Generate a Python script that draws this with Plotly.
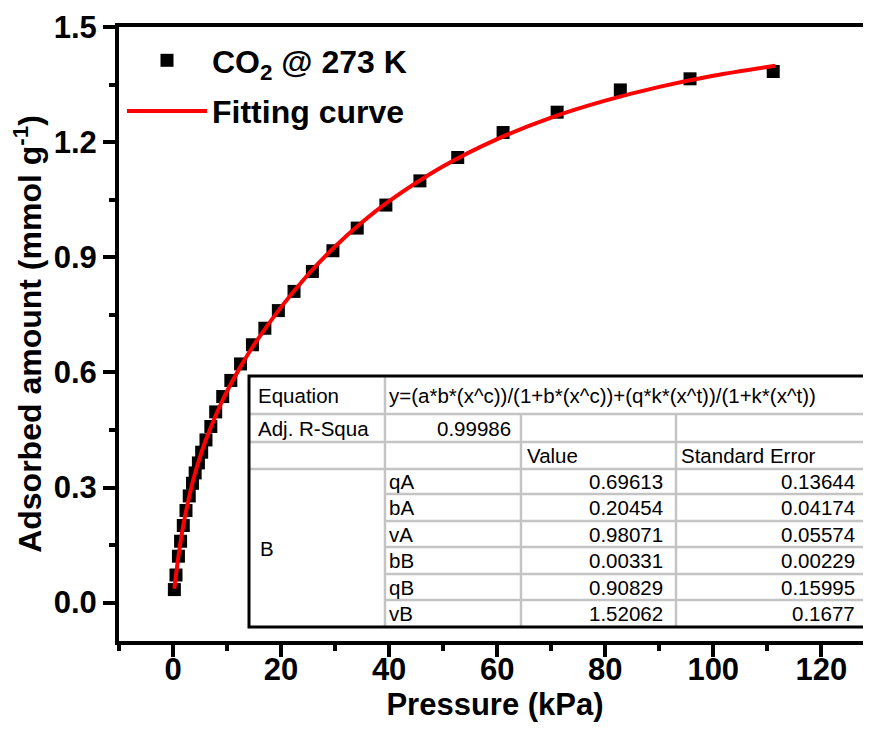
import plotly.graph_objects as go

# ---- data ----
pressure = [0.25, 0.55, 1.0, 1.4, 1.9, 2.4, 3.0, 3.6, 4.1, 4.7, 5.3, 6.1, 7.0, 7.9,
            9.2, 10.7, 12.5, 14.7, 17.0, 19.5, 22.4, 25.8, 29.6, 34.1, 39.4, 45.7,
            52.7, 61.1, 71.1, 82.8, 95.7, 111.1]
uptake = [0.034, 0.072, 0.121, 0.160, 0.201, 0.240, 0.278, 0.311, 0.338, 0.364,
          0.392, 0.424, 0.459, 0.497, 0.537, 0.579, 0.622, 0.672, 0.715, 0.761,
          0.811, 0.863, 0.917, 0.976, 1.036, 1.099, 1.160, 1.225, 1.278, 1.336,
          1.365, 1.384]

fit_x = [0.25, 0.5, 1, 1.5, 2, 3, 4, 5, 6, 8, 10, 12.5, 15, 20, 25, 30, 35, 40,
         50, 60, 70, 80, 90, 100, 111.5]
fit_y = [0.036, 0.066, 0.121, 0.168, 0.209, 0.277, 0.333, 0.380, 0.421, 0.491,
         0.551, 0.615, 0.672, 0.770, 0.855, 0.928, 0.991, 1.046, 1.137, 1.208,
         1.264, 1.308, 1.344, 1.373, 1.399]

equation = "y=(a*b*(x^c))/(1+b*(x^c))+(q*k*(x^t))/(1+k*(x^t))"
adj_r2 = "0.99986"
param_names = ["qA", "bA", "vA", "bB", "qB", "vB"]
param_values = ["0.69613", "0.20454", "0.98071", "0.00331", "0.90829", "1.52062"]
param_errors = ["0.13644", "0.04174", "0.05574", "0.00229", "0.15995", "0.1677"]

x_ticks = [0, 20, 40, 60, 80, 100, 120]
y_ticks = [0.0, 0.3, 0.6, 0.9, 1.2, 1.5]

# ---- layout geometry (page body has an 8px margin) ----
OFF = 8
W, H = 871 - OFF, 729 - OFF
ML, MR, MT, MB = 119 - OFF, 0, 27 - OFF, 729 - 641
PW, PH = W - ML - MR, H - MT - MB

def fx(p):
    """screen pixel x -> paper"""
    return (p - OFF - ML) / PW

def fy(p):
    """screen pixel y -> paper"""
    return (H - MB - (p - OFF)) / PH

BOLD = "Liberation Sans, Arial, sans-serif"

fig = go.Figure()
fig.add_trace(go.Scatter(
    x=pressure, y=uptake, mode="markers", name="CO<sub>2</sub> @ 273 K",
    legendgroup="a",
    marker=dict(symbol="square", size=13, color="black"),
))
fig.add_trace(go.Scatter(
    x=fit_x, y=fit_y, mode="lines", name="Fitting curve", legendgroup="b",
    line=dict(color="#ff0000", width=4, shape="spline"),
))

axis_font = dict(family=BOLD, size=31, color="black", weight="bold")
fig.update_layout(
    width=W, height=H,
    margin=dict(l=ML, r=MR, t=MT, b=MB),
    paper_bgcolor="white", plot_bgcolor="white",
    font=dict(family=BOLD, color="black"),
    showlegend=True,
    legend=dict(x=fx(122), y=fy(33), xanchor="left", yanchor="top",
                bgcolor="rgba(0,0,0,0)", tracegroupgap=6,
                font=dict(family=BOLD, size=32, color="black", weight="bold"),
                itemwidth=80),
    xaxis=dict(range=[-10, 129.2], tickvals=x_ticks, showgrid=False, zeroline=False,
               showline=True, linewidth=4, linecolor="black", mirror=True,
               ticks="outside", ticklen=12, tickwidth=3.5, tickcolor="black",
               tickfont=axis_font, ticklabelstandoff=-14,
               minor=dict(dtick=10, tick0=0, ticks="outside", ticklen=6,
                          tickwidth=3.5, tickcolor="black", showgrid=False),
               title=dict(text="Pressure (kPa)", font=dict(family=BOLD, size=31, weight="bold"),
                          standoff=0)),
    yaxis=dict(range=[-0.1, 1.5], tickvals=y_ticks, tickformat=".1f", showgrid=False,
               zeroline=False, showline=True, linewidth=4, linecolor="black",
               ticks="outside", ticklen=12, tickwidth=3.5, tickcolor="black",
               tickfont=axis_font,
               minor=dict(dtick=0.15, tick0=0, ticks="outside", ticklen=6,
                          tickwidth=3.5, tickcolor="black", showgrid=False),
               title=dict(text="Adsorbed amount (mmol g<sup>-1</sup>)",
                          font=dict(family=BOLD, size=32, weight="bold"), standoff=4)),
)

# ---- inset parameter table ----
T_L, T_R, T_T, T_B = 249, 866, 376, 627
C1, C2, C3 = 385, 521, 676
row_lines = [414, 442, 469, 494, 521, 547, 574, 600]
GRAY = "#c4c4c4"
shapes = [dict(type="rect", xref="paper", yref="paper", x0=fx(T_L), x1=fx(T_R),
               y0=fy(T_B), y1=fy(T_T), fillcolor="white", line=dict(width=0),
               layer="above")]
for i, yy in enumerate(row_lines):
    x0 = T_L if i < 3 else C1
    shapes.append(dict(type="line", xref="paper", yref="paper", x0=fx(x0), x1=fx(T_R),
                       y0=fy(yy), y1=fy(yy), line=dict(color=GRAY, width=2.5)))
shapes.append(dict(type="line", xref="paper", yref="paper", x0=fx(C1), x1=fx(C1),
                   y0=fy(T_T), y1=fy(T_B), line=dict(color=GRAY, width=2.5)))
for cx in (C2, C3):
    shapes.append(dict(type="line", xref="paper", yref="paper", x0=fx(cx), x1=fx(cx),
                       y0=fy(row_lines[0]), y1=fy(T_B), line=dict(color=GRAY, width=2.5)))
shapes.append(dict(type="rect", xref="paper", yref="paper", x0=fx(T_L), x1=fx(T_R),
                   y0=fy(T_B), y1=fy(T_T), line=dict(color="black", width=3)))
fig.update_layout(shapes=shapes)

TF = dict(family="Liberation Sans, Arial, sans-serif", size=20.5, color="black")

def txt(s, x, y, anchor="left"):
    fig.add_annotation(text=s, xref="paper", yref="paper", x=fx(x), y=fy(y),
                       xanchor=anchor, yanchor="middle", showarrow=False, font=TF)

txt("Equation", 256, 395)
txt(equation, 387, 395)
txt("Adj. R-Squa", 256, 428)
txt(adj_r2, 513, 428, "right")
txt("Value", 525, 455.5)
txt("Standard Error", 679, 455.5)
txt("B", 258, 548)
bounds = [469, 494, 521, 547, 574, 600, 627]
for i, (n, v, e) in enumerate(zip(param_names, param_values, param_errors)):
    yc = (bounds[i] + bounds[i + 1]) / 2
    txt(n, 387, yc)
    txt(v, 665, yc, "right")
    txt(e, 857, yc, "right")

fig.write_html("out.html")
